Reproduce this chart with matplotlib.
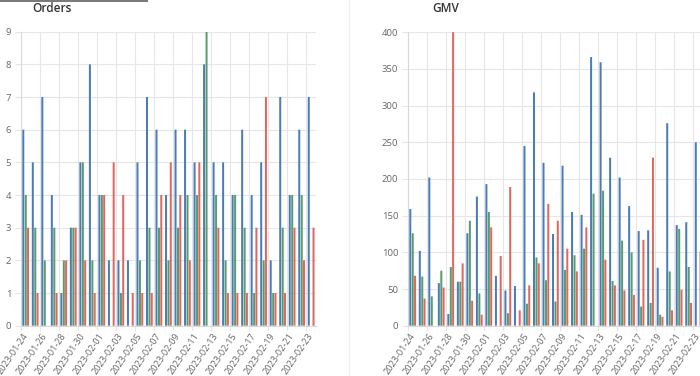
import numpy as np
import pandas as pd
import matplotlib
matplotlib.use("Agg")
import matplotlib.pyplot as plt
from matplotlib.lines import Line2D

# Data
dates = pd.date_range("2023-01-24", "2023-02-23").strftime("%Y-%m-%d").tolist()

orders_blue = [6, 5, 7, 4, 1, 3, 5, 8, 4, 2, 2, 2, 5, 7, 6, 4, 6, 6, 5, 8, 5, 5, 4, 6, 4, 5, 2, 7, 4, 6, 7]
orders_green = [4, 3, 2, 3, 2, 3, 5, 2, 4, 0, 1, 0, 2, 3, 3, 2, 3, 4, 4, 9, 4, 2, 4, 3, 1, 2, 1, 3, 4, 4, 0]
orders_red = [3, 1, 0, 1, 2, 3, 2, 1, 4, 5, 4, 1, 1, 1, 4, 5, 4, 2, 5, 0, 3, 1, 1, 1, 3, 7, 1, 1, 3, 2, 3]

gmv_blue = [159, 102, 202, 58, 16, 60, 126, 176, 193, 68, 48, 54, 245, 318, 222, 125, 218, 155, 151, 366, 359, 229, 202, 163, 129, 130, 79, 276, 137, 141, 250]
gmv_green = [126, 67, 40, 75, 80, 60, 143, 44, 155, 0, 17, 0, 30, 93, 62, 33, 76, 96, 105, 180, 184, 61, 116, 100, 26, 31, 15, 74, 132, 80, 0]
gmv_red = [68, 37, 0, 52, 400, 85, 34, 15, 134, 95, 189, 21, 55, 85, 166, 143, 105, 74, 134, 0, 90, 55, 48, 42, 117, 229, 12, 21, 49, 31, 101]

blue = "#4a7cb8"
green = "#5a9c69"
red = "#e0665f"
grid_c = "#e6e6e6"
text_c = "#666666"

plt.rcParams['font.family'] = ['Open Sans', 'DejaVu Sans']

fig = plt.figure(figsize=(7, 3.76), dpi=100)


def draw_panel(rect, title, title_x, b, g, r, ymax, ystep):
    ax = fig.add_axes(rect)
    x = np.arange(len(dates))
    w = 0.21
    for off, vals, col in [(-0.26, b, blue), (0, g, green), (0.24, r, red)]:
        bars = ax.bar(x + off, vals, w, color=col, linewidth=0)
        for p in bars:
            p.set_snap(False)

    ax.set_xlim(-0.5, len(dates) - 0.5)
    ax.set_ylim(0, ymax)
    ax.set_yticks(np.arange(0, ymax + 1, ystep))
    ax.set_xticks(x[::2])
    ax.set_xticklabels(dates[::2], rotation=56, ha='right', va='center',
                       rotation_mode='anchor')
    ax.tick_params(axis='x', length=0, pad=6, labelsize=6.6, labelcolor=text_c)
    ax.tick_params(axis='y', length=4, color=grid_c, pad=3, labelsize=6.8,
                   labelcolor=text_c)

    # horizontal grid
    ax.yaxis.grid(True, color=grid_c, linewidth=0.8)
    # vertical grid on every other category edge
    for xv in np.arange(-0.5, len(dates), 2):
        ax.axvline(xv, color=grid_c, linewidth=0.8, zorder=0)
        ax.plot([xv, xv], [0, -ymax * 0.015], color=grid_c, linewidth=0.8,
                clip_on=False)
    ax.set_axisbelow(True)

    for s in ['top', 'right']:
        ax.spines[s].set_visible(False)
    for s in ['left', 'bottom']:
        ax.spines[s].set_color("#d9d9d9")
        ax.spines[s].set_linewidth(0.8)

    fig.text(title_x / 700, 1 - 8 / 376, title, fontsize=8.5,
             fontweight='semibold', color="#333333", ha='left', va='center')
    return ax


draw_panel([21 / 700, 50.3 / 376, 295 / 700, 294 / 376], "Orders", 32,
           orders_blue, orders_green, orders_red, 9, 1)
draw_panel([408 / 700, 50.3 / 376, 295 / 700, 293.5 / 376], "GMV", 432,
           gmv_blue, gmv_green, gmv_red, 400, 50)

# tab underline top-left and faint separator
fig.add_artist(Line2D([0, 147 / 700], [1 - 0.8 / 376, 1 - 0.8 / 376],
                      color="#777777", linewidth=1.4))
fig.add_artist(Line2D([349 / 700, 349 / 700], [0, 1], color="#f0f0f0",
                      linewidth=1))

fig.savefig("out.png", dpi=100)
